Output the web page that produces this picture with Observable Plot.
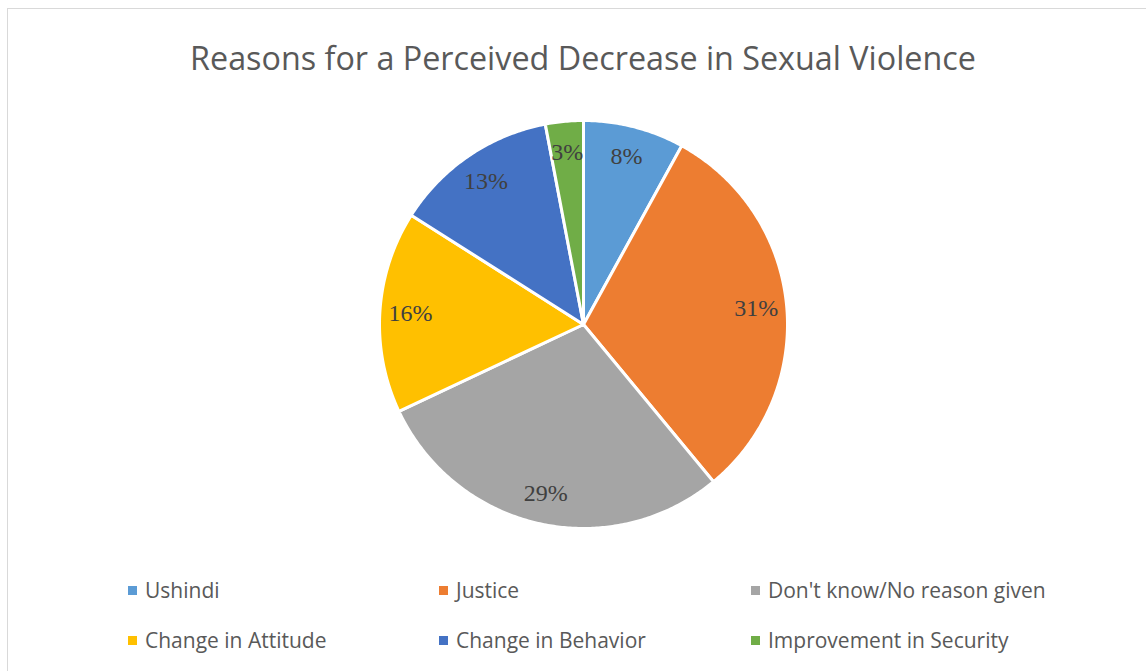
<!DOCTYPE html>
<html><head><meta charset="utf-8">
<script src="https://cdn.jsdelivr.net/npm/d3@7"></script>
<script src="https://cdn.jsdelivr.net/npm/@observablehq/plot@0.6"></script>
<style>
body{margin:0;background:#fff;}
#wrap{position:relative;width:1146px;height:671px;overflow:hidden;font-family:"Open Sans",sans-serif;background:#fff}
#frame{position:absolute;left:7px;top:8px;width:1200px;height:700px;border:1.5px solid #d9d9d9;box-sizing:border-box}
#title{position:absolute;left:0;width:1166px;top:35px;text-align:center;font-size:32.3px;color:#595959;white-space:nowrap}
#pie{position:absolute;left:363px;top:104px}
.leg{position:absolute;font-size:21px;color:#595959;display:flex;align-items:center;white-space:nowrap;height:30px}
.sw{width:9px;height:9px;margin-right:8px;flex:none}
</style></head>
<body><div id="wrap"><div id="frame"></div><div id="title">Reasons for a Perceived Decrease in Sexual Violence</div><div id="pie"></div></div>
<script>
const categories = ["Ushindi","Justice","Don't know/No reason given","Change in Attitude","Change in Behavior","Improvement in Security"];
const values = [8,31,29,16,13,3];
const colors = ["#5B9BD5","#ED7D31","#A5A5A5","#FFC000","#4472C4","#70AD47"];
const labels = ["8%","31%","29%","16%","13%","3%"];

const R = 204, half = 220, s = half / R;
const arcs = d3.pie().sort(null).value(d => d)(values);
const pts = [];
arcs.forEach((a, i) => {
  const cat = categories[i];
  pts.push({cat, x: 0, y: 0});
  const n = Math.max(4, Math.ceil((a.endAngle - a.startAngle) / 0.01));
  for (let k = 0; k <= n; k++) {
    const t = a.startAngle + (a.endAngle - a.startAngle) * k / n;
    pts.push({cat, x: Math.sin(t), y: Math.cos(t)});
  }
  pts.push({cat, x: 0, y: 0});
});
const lab = arcs.map((a, i) => {
  const m = (a.startAngle + a.endAngle) / 2;
  return {text: labels[i], x: 0.85 * Math.sin(m), y: 0.85 * Math.cos(m)};
});

const chart = Plot.plot({
  width: 2 * half, height: 2 * half, margin: 0,
  x: {domain: [-s, s], axis: null},
  y: {domain: [-s, s], axis: null},
  color: {domain: categories, range: colors},
  marks: [
    Plot.line(pts, {x: "x", y: "y", z: "cat", fill: "cat", stroke: "white", strokeWidth: 3, strokeLinejoin: "round"}),
    Plot.text(lab, {x: "x", y: "y", text: "text", fontFamily: "Liberation Serif", fontSize: 24, fill: "#404040"})
  ]
});
document.getElementById("pie").appendChild(chart);

const colX = [128, 439, 751], rowY = [590, 640];
const wrap = document.getElementById("wrap");
categories.forEach((c, i) => {
  const d = document.createElement("div");
  d.className = "leg";
  d.style.left = colX[i % 3] + "px";
  d.style.top = (rowY[Math.floor(i / 3)] - 15) + "px";
  const sw = document.createElement("div");
  sw.className = "sw";
  sw.style.background = colors[i];
  d.appendChild(sw);
  d.appendChild(document.createTextNode(c));
  wrap.appendChild(d);
});
</script></body></html>
